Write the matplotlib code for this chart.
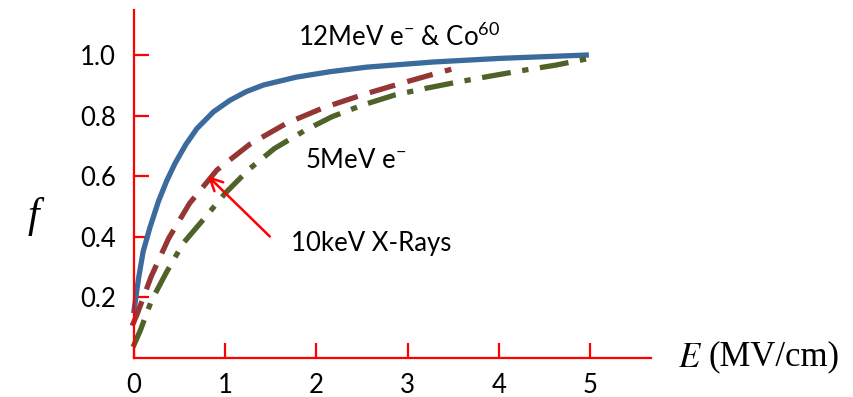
import matplotlib
matplotlib.use("Agg")
import matplotlib.pyplot as plt

# values
e_blue = [0.0, 0.05, 0.1, 0.175, 0.27, 0.36, 0.45, 0.57, 0.69, 0.87, 1.05, 1.23, 1.42, 1.78,
          2.15, 2.55, 3.28, 4.01, 4.96]
f_blue = [0.155, 0.262, 0.35, 0.43, 0.518, 0.585, 0.642, 0.705, 0.757, 0.812, 0.85, 0.879,
          0.901, 0.927, 0.945, 0.96, 0.977, 0.989, 1.0]

e_red = [-0.02, 0.03, 0.19, 0.38, 0.61, 0.91, 1.27, 1.67, 2.08, 2.53, 2.97, 3.38, 3.48]
f_red = [0.105, 0.14, 0.269, 0.394, 0.51, 0.62, 0.705, 0.774, 0.826, 0.871, 0.91, 0.945, 0.953]

e_green = [-0.01, 0.07, 0.19, 0.36, 0.54, 0.78, 1.0, 1.26, 1.54, 1.87, 2.17, 2.51,
           2.86, 3.2, 3.57, 3.9, 4.28, 4.63, 4.96]
f_green = [0.035, 0.09, 0.187, 0.284, 0.378, 0.463, 0.543, 0.622, 0.691, 0.75, 0.796, 0.835,
           0.868, 0.89, 0.912, 0.93, 0.95, 0.967, 0.987]

xticks = [0, 1, 2, 3, 4, 5]
yticks = [0.2, 0.4, 0.6, 0.8, 1.0]

sans = ["Lato", "DejaVu Sans"]
serif = ["Liberation Serif", "DejaVu Serif"]
plt.rcParams["mathtext.fontset"] = "custom"
plt.rcParams["mathtext.rm"] = "Lato"

fig = plt.figure(figsize=(8.54, 3.97), dpi=100)
ax = fig.add_axes([134 / 854, 1 - 357.5 / 397, (651 - 134) / 854, (357.5 - 10) / 397])

ax.plot(e_blue, f_blue, color="#3b6a9d", lw=3.8, solid_joinstyle="round", clip_on=False)
ax.plot(e_red, f_red, color="#943634", lw=3.8, dashes=(5, 2.4), clip_on=False)
ax.plot(e_green, f_green, color="#4f6228", lw=3.8, dashes=(5.5, 2.2, 1.2, 2.2), clip_on=False)

ax.set_xlim(0, 5.67)
ax.set_ylim(0, 1.149)
for s in ["top", "right"]:
    ax.spines[s].set_visible(False)
for s in ["left", "bottom"]:
    ax.spines[s].set_color("red")
    ax.spines[s].set_linewidth(1.6)

ax.set_xticks(xticks)
ax.set_yticks(yticks)
ax.set_xticklabels([str(v) for v in xticks], family=sans, fontsize=18.5)
ax.set_yticklabels(["%.1f" % v for v in yticks], family=sans, fontsize=18.5)
ax.tick_params(direction="in", length=11, width=1.6, color="red")
ax.tick_params(axis="y", pad=13)
ax.tick_params(axis="x", pad=11)

ax.text(1.8, 1.06, r"12MeV e$\mathregular{^{-}}$ & Co$\mathregular{^{60}}$", family=sans,
        fontsize=18.5, va="center", ha="left")
ax.text(1.875, 0.653, r"5MeV e$\mathregular{^{-}}$", family=sans, fontsize=18.5,
        va="center", ha="left")
ax.text(1.72, 0.378, "10keV X-Rays", family=sans, fontsize=18.5, va="center", ha="left")
ax.annotate("", xy=(0.81, 0.60), xytext=(1.49, 0.40),
            arrowprops=dict(arrowstyle="->,head_length=0.9,head_width=0.45", color="red",
                            lw=1.8, shrinkA=0, shrinkB=0))

fig.text(33 / 854, 1 - 217 / 397, "f", family=serif, style="italic", fontsize=30,
         ha="center", va="center")
fig.text(678 / 854, 1 - 357 / 397, "$E$", fontsize=25, ha="left", va="center",
         math_fontfamily="stix")
fig.text(709 / 854, 1 - 357 / 397, "(MV/cm)", family=serif, fontsize=25, ha="left",
         va="center")

fig.savefig("out.png", dpi=100)
